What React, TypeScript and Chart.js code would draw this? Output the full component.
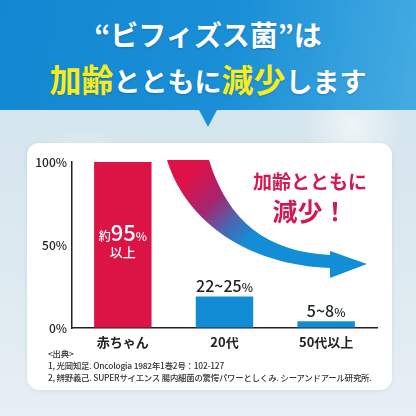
import React, { useEffect, useRef } from "react";
import { Chart, registerables } from "chart.js";

Chart.register(...registerables);

const categories = ["赤ちゃん", "20代", "50代以上"];
const values = [100, 19, 4];
const barColors = ["#dc1446", "#128dd5", "#128dd5"];
const yTicks = [0, 50, 100];
const labelPrefix = ["約", "", ""];
const labelMain = ["95", "22~25", "5~8"];
const labelSuffix = ["%", "%", "%"];
const labelSub = ["以上", "", ""];
const labelInside = [true, false, false];

const FONT = '"Noto Sans CJK JP", "Noto Sans", sans-serif';

const barLabelPlugin = {
  id: "barLabels",
  afterDatasetsDraw(chart: any) {
    const ctx = chart.ctx;
    const meta = chart.getDatasetMeta(0);
    meta.data.forEach((bar: any, i: number) => {
      const parts: [string, string][] = [];
      const inside = labelInside[i];
      const bigSize = inside ? 22 : 16;
      const smallSize = inside ? 12 : 12;
      if (labelPrefix[i]) parts.push([labelPrefix[i], `500 ${smallSize}px ${FONT}`]);
      parts.push([labelMain[i], `500 ${bigSize}px ${FONT}`]);
      parts.push([labelSuffix[i], `500 ${smallSize}px ${FONT}`]);
      ctx.save();
      let total = 0;
      const widths = parts.map(([t, f]) => {
        ctx.font = f;
        const w = ctx.measureText(t).width;
        total += w;
        return w;
      });
      const color = inside ? "#ffffff" : "#222222";
      ctx.fillStyle = color;
      ctx.textBaseline = "alphabetic";
      ctx.textAlign = "left";
      let baseline: number;
      if (inside) {
        const mid = (bar.y + bar.base) / 2;
        baseline = mid - 4;
      } else {
        baseline = bar.y - 4;
      }
      let x = bar.x - total / 2;
      parts.forEach(([t, f], k) => {
        ctx.font = f;
        ctx.fillText(t, x, baseline);
        x += widths[k];
      });
      if (labelSub[i]) {
        ctx.font = `500 13px ${FONT}`;
        ctx.textAlign = "center";
        ctx.textBaseline = "middle";
        ctx.fillText(labelSub[i], bar.x, baseline + 11);
      }
      ctx.restore();
    });
  },
};

const arrowPlugin = {
  id: "trendArrow",
  beforeDatasetsDraw(chart: any) {
    const ctx = chart.ctx;
    const a = chart.chartArea;
    const ox = a.left;
    const oy = a.top;
    const P = (x: number, y: number) => [ox + x, oy + y];
    ctx.save();
    const g = ctx.createLinearGradient(ox + 113, oy + 18, ox + 175, oy + 80);
    g.addColorStop(0, "#df1149");
    g.addColorStop(0.4, "#a5256f");
    g.addColorStop(0.7, "#5063ae");
    g.addColorStop(1, "#128ed6");
    ctx.fillStyle = g;
    ctx.beginPath();
    ctx.moveTo(...P(95, -2));
    ctx.lineTo(...P(137, -2));
    ctx.bezierCurveTo(...P(156, 60), ...P(196, 90), ...P(258, 93));
    ctx.lineTo(...P(258, 89));
    ctx.lineTo(...P(295, 102));
    ctx.lineTo(...P(258, 116));
    ctx.lineTo(...P(258, 106));
    ctx.bezierCurveTo(...P(178, 103), ...P(115, 62), ...P(95, -2));
    ctx.closePath();
    ctx.fill();
    ctx.restore();
  },
};

function App() {
  const ref = useRef<HTMLCanvasElement | null>(null);
  useEffect(() => {
    if (!ref.current) return;
    const chart = new Chart(ref.current, {
      type: "bar",
      data: {
        labels: categories,
        datasets: [
          {
            data: values,
            backgroundColor: barColors,
            borderWidth: 0,
            barPercentage: 1,
            categoryPercentage: 0.565,
          },
        ],
      },
      options: {
        animation: false,
        responsive: false,
        maintainAspectRatio: false,
        devicePixelRatio: 1,
        layout: { padding: { left: 26, right: 39, top: 162, bottom: 63 } },
        plugins: { legend: { display: false }, tooltip: { enabled: false } },
        scales: {
          x: {
            grid: { color: "rgba(0,0,0,0)", drawTicks: false },
            border: { display: true, color: "#222", width: 1.5 },
            ticks: {
              font: { family: FONT, size: 13, weight: "bold" },
              color: "#222",
              padding: 6,
            },
            afterFit: (s: any) => {
              s.height = 25;
            },
          },
          y: {
            min: 0,
            max: 100,
            afterBuildTicks: (s: any) => {
              s.ticks = yTicks.map((v) => ({ value: v }));
            },
            grid: { color: "rgba(0,0,0,0)", drawTicks: false },
            border: { display: true, color: "#222", width: 1.5 },
            ticks: {
              font: { family: FONT, size: 12, weight: 500 },
              color: "#222",
              padding: 5,
              callback: (v: any) => v + "%",
            },
            afterFit: (s: any) => {
              s.width = 46;
            },
          },
        },
      } as any,
      plugins: [arrowPlugin, barLabelPlugin],
    });
    return () => chart.destroy();
  }, []);

  return (
    <div
      style={{
        position: "absolute",
        left: 0,
        top: 0,
        width: 416,
        height: 416,
        overflow: "hidden",
        fontFamily: FONT,
        background:
          "radial-gradient(circle at 20% 45%, rgba(255,255,255,0.7) 0, rgba(255,255,255,0) 60px), radial-gradient(circle at 85% 30%, rgba(255,255,255,0.6) 0, rgba(255,255,255,0) 50px), linear-gradient(180deg, #cfe2ec 0%, #dce9f0 60%, #e6eff4 100%)",
      }}
    >
      <div
        style={{
          position: "absolute",
          left: 0,
          top: 0,
          width: 416,
          height: 110,
          background: "linear-gradient(100deg, #1388d2 0%, #1a8fd6 55%, #45abe2 100%)",
        }}
      />
      <div
        style={{
          position: "absolute",
          left: 199,
          top: 110,
          width: 0,
          height: 0,
          borderLeft: "9px solid transparent",
          borderRight: "9px solid transparent",
          borderTop: "17px solid #1a8fd6",
        }}
      />
      <div
        style={{
          position: "absolute",
          left: 0,
          top: 14,
          width: 416,
          textAlign: "center",
          color: "#fff",
          fontWeight: 700,
          fontSize: 28,
          lineHeight: "40px",
          textShadow: "0 1px 2px rgba(0,40,90,0.25)",
          whiteSpace: "nowrap",
        }}
      >
        “ビフィズス菌”は
      </div>
      <div
        style={{
          position: "absolute",
          left: 0,
          top: 56,
          width: 416,
          textAlign: "center",
          color: "#fff",
          fontWeight: 700,
          fontSize: 27,
          lineHeight: "44px",
          textShadow: "0 1px 2px rgba(0,40,90,0.25)",
          whiteSpace: "nowrap",
        }}
      >
        <span style={{ color: "#f7ec1c", fontSize: 32 }}>加齢</span>とともに
        <span style={{ color: "#f7ec1c", fontSize: 32 }}>減少</span>します
      </div>
      <div
        style={{
          position: "absolute",
          left: 27,
          top: 143,
          width: 365,
          height: 247,
          background: "#fff",
          borderRadius: 12,
          boxShadow: "0 1px 4px rgba(0,0,0,0.08)",
        }}
      />
      <canvas
        ref={ref}
        width={416}
        height={416}
        style={{ position: "absolute", left: 0, top: 0, width: 416, height: 416 }}
      />
      <div
        style={{
          position: "absolute",
          left: 230,
          top: 168,
          width: 160,
          textAlign: "center",
          color: "#d21a52",
          fontWeight: 700,
          whiteSpace: "nowrap",
        }}
      >
        <div style={{ fontSize: 19, lineHeight: "26px" }}>加齢とともに</div>
        <div style={{ fontSize: 25, lineHeight: "32px" }}>減少！</div>
      </div>
      <div
        style={{
          position: "absolute",
          left: 48,
          top: 347,
          color: "#333",
          fontSize: 8.4,
          fontWeight: 500,
          letterSpacing: -0.2,
          lineHeight: "12px",
          whiteSpace: "nowrap",
        }}
      >
        <div>&lt;出典&gt;</div>
        <div>1, 光岡知足. Oncologia 1982年1巻2号：102-127</div>
        <div>2, 辨野義己. SUPERサイエンス 腸内細菌の驚愕パワーとしくみ. シーアンドアール研究所.</div>
      </div>
    </div>
  );
}

export default App;
